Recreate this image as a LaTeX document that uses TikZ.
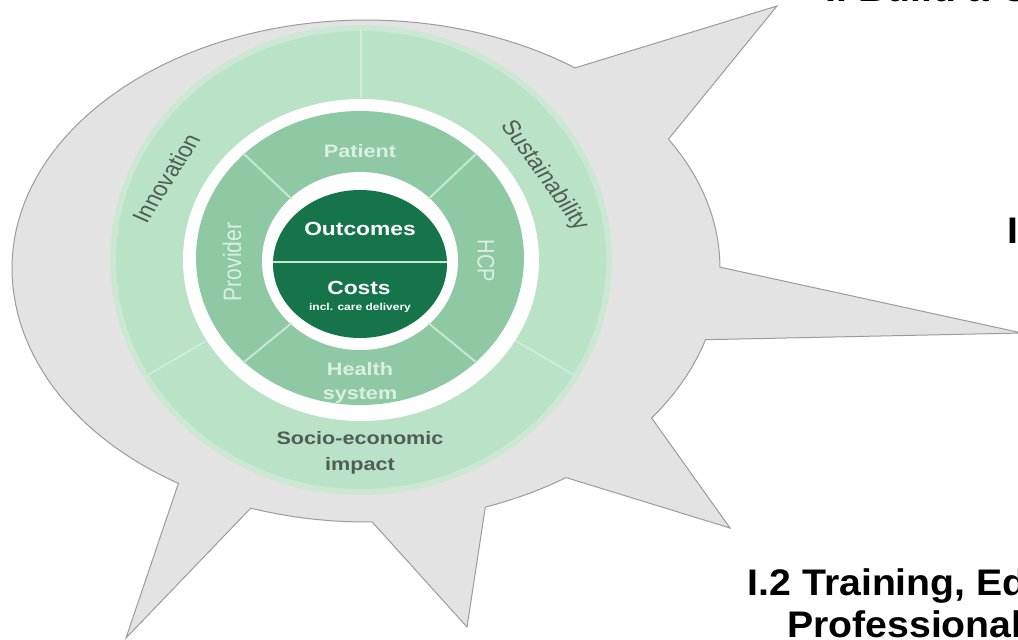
\documentclass[tikz,border=0pt]{standalone}
\usepackage{fontspec}
\setmainfont{Liberation Sans}
\definecolor{blobgray}{HTML}{E3E3E3}
\definecolor{blobedge}{HTML}{9C9C9C}
\definecolor{ringlight}{HTML}{B9E2C7}
\definecolor{ringsoft}{HTML}{CCE8D5}
\definecolor{ringline}{HTML}{D2EEDA}
\definecolor{midgreen}{HTML}{8FC9A4}
\definecolor{midline}{HTML}{C8E7D2}
\definecolor{darkgreen}{HTML}{15744B}
\definecolor{midtext}{HTML}{DAEFE1}
\definecolor{outtext}{HTML}{505D55}
\begin{document}
\begin{tikzpicture}[x=1pt,y=-1pt,
  lbl/.style={inner sep=0pt, align=center},
  wheeltext/.style={lbl, xscale=1.2},
  bigtext/.style={inner sep=0pt, anchor=base west, xscale=1.06, font=\fontsize{37}{42}\selectfont\bfseries},
  ringdiv/.style={draw=ringline, line width=1.5pt},
  middiv/.style={draw=midline, line width=2pt}]
\useasboundingbox (0,0) rectangle (1018,640);
\clip (0,0) rectangle (1018,640);
\fill[white] (0,0) rectangle (1018,640);
% gray spiky blob
\filldraw[fill=blobgray, draw=blobedge, line width=1pt, line join=miter]
  plot[domain=53.8:180, samples=60, variable=\t] ({366+354*cos(\t)},{268-248*sin(\t)})
  -- plot[domain=180:238, samples=30, variable=\t] ({366+354*cos(\t)},{268-254*sin(\t)})
  -- (126,638)
  -- plot[domain=251:271, samples=10, variable=\t] ({366+354*cos(\t)},{268-254*sin(\t)})
  -- (467,627)
  -- plot[domain=289.7:304.4, samples=10, variable=\t] ({366+354*cos(\t)},{268-254*sin(\t)})
  -- (730,528)
  -- plot[domain=323.8:343.6, samples=10, variable=\t] ({366+354*cos(\t)},{268-254*sin(\t)})
  -- (1022,333)
  -- plot[domain=360.2:391.3, samples=15, variable=\t] ({366+354*cos(\t)},{268-248*sin(\t)})
  -- (777,6)
  -- cycle;
% outer green ring
\fill[ringsoft] (361,260) ellipse[x radius=251, y radius=235];
\fill[ringlight] (361,260) ellipse[x radius=245, y radius=229];
\fill[white] (361,260) ellipse[x radius=178, y radius=161];
% middle ring
\fill[midgreen] (360,258) ellipse[x radius=164, y radius=147];
\fill[white] (360,261) ellipse[x radius=98, y radius=89];
% inner core
\fill[darkgreen] (360,264) ellipse[x radius=87, y radius=74];
\begin{scope}
  \clip (360,264) ellipse[x radius=87, y radius=74];
  \draw[draw=midline, line width=2pt] (270,262) -- (450,262);
\end{scope}
% dividers of the outer ring
\foreach \a in {90,210,330}
  \draw[ringdiv] ({361+179*cos(\a)},{260-162*sin(\a)}) -- ({361+246*cos(\a)},{260-230*sin(\a)});
% dividers of the middle ring
\foreach \a in {45,135,225,315}
  \draw[middiv] ({360+97*cos(\a)},{261-88*sin(\a)}) -- ({360+165*cos(\a)},{258-148*sin(\a)});
% core labels
\node[wheeltext, text=white, font=\fontsize{19}{21}\selectfont\bfseries] (outc) at (360,229) {Outcomes};
\node[wheeltext, text=white, font=\fontsize{19}{21}\selectfont\bfseries] (cost) at (359,288) {Costs};
\node[wheeltext, text=white, font=\fontsize{10}{12}\selectfont\bfseries] (incl) at (360,308) {incl. care delivery};
% middle ring labels
\node[wheeltext, text=midtext, font=\fontsize{18}{20}\selectfont\bfseries] (pat) at (360,151) {Patient};
\node[lbl, text=midtext, font=\fontsize{21}{23}\selectfont, xscale=1.2, rotate=90] (prov) at (232,262) {Provider};
\node[lbl, text=midtext, font=\fontsize{20}{22}\selectfont, xscale=1.2, rotate=-90] (hcp) at (486,261) {HCP};
\node[wheeltext, text=midtext, font=\fontsize{18}{24}\selectfont\bfseries] (hs) at (360,383) {Health\\system};
% outer ring labels
\node[wheeltext, text=outtext, font=\fontsize{18}{26}\selectfont\bfseries] (soc) at (360,453) {Socio-economic\\impact};
\node[lbl, text=outtext, font=\fontsize{21}{23}\selectfont, xscale=1.2, rotate=62] (inno) at (166,178) {Innovation};
\node[lbl, text=outtext, font=\fontsize{21}{23}\selectfont, xscale=1.2, rotate=-59] (sust) at (544,176) {Sustainability};
% right-hand headings (cut by the page edge, as in the reference)
\node[bigtext] (t1) at (825.5,1) {I. Build a C};
\node[bigtext] (t2) at (1007.5,243) {I};
\node[bigtext] (t3) at (747.5,595) {I.2 Training, Ed};
\node[bigtext] (t4) at (787,637) {Professional};
\end{tikzpicture}
\end{document}
